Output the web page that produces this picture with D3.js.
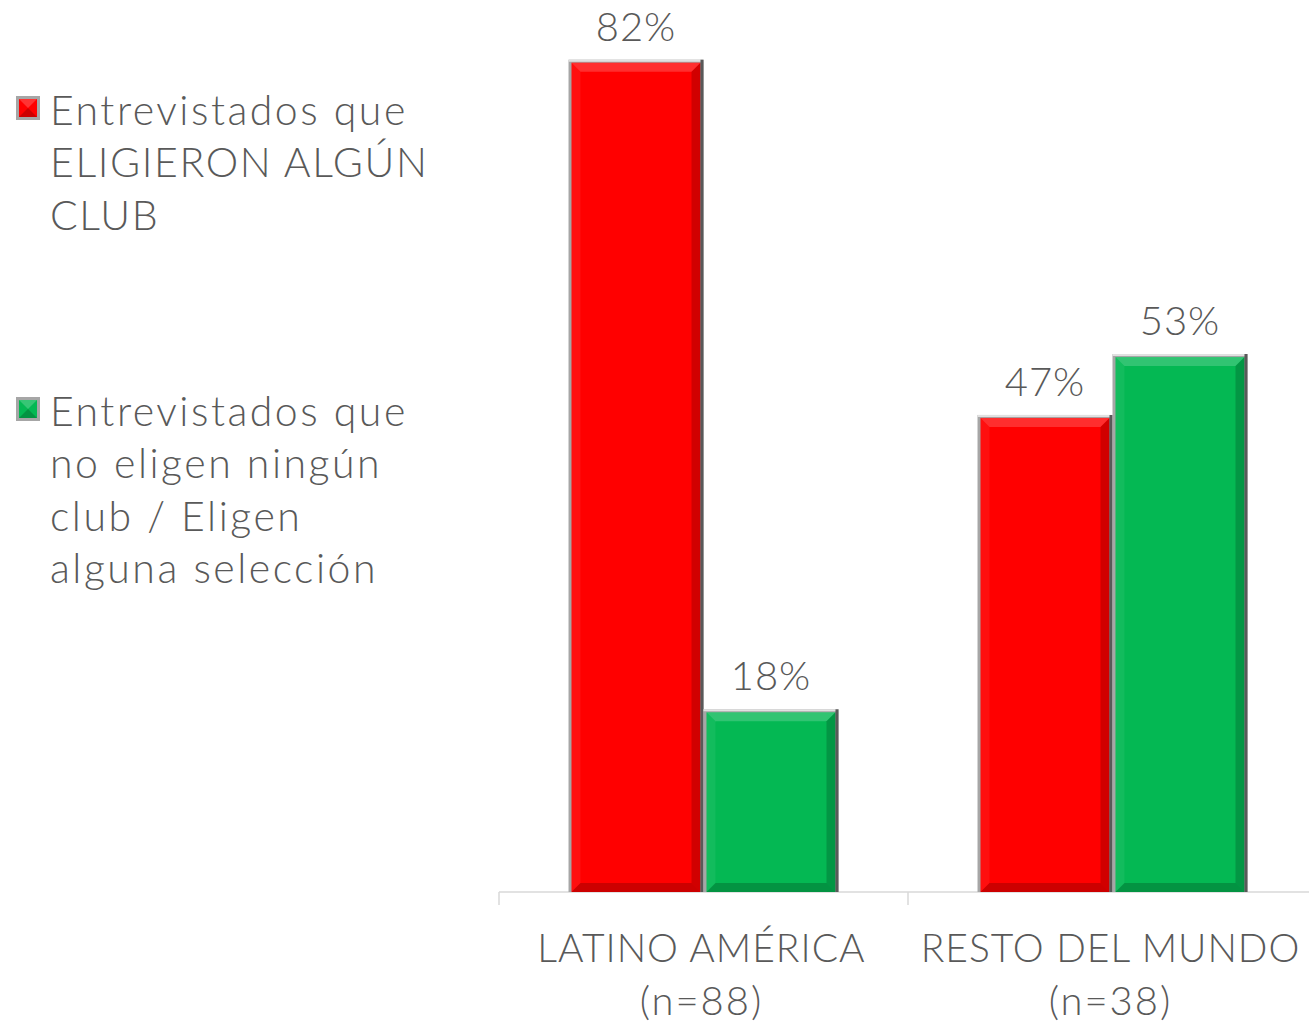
<!DOCTYPE html>
<html>
<head>
<meta charset="utf-8">
<script src="https://cdn.jsdelivr.net/npm/d3@7"></script>
<style>
  body { margin: 0; background: #fff; }
  text { font-family: "Lato", "DejaVu Sans", sans-serif; font-weight: 300; fill: #595959; }
</style>
</head>
<body>
<svg width="1309" height="1024"></svg>
<script>
var categories = ["LATINO AMÉRICA", "RESTO DEL MUNDO"];
var categorySub = ["(n=88)", "(n=38)"];
var series = ["Entrevistados que ELIGIERON ALGÚN CLUB", "Entrevistados que no eligen ningún club / Eligen alguna selección"];
var legendLines = [["Entrevistados que", "ELIGIERON ALGÚN", "CLUB"], ["Entrevistados que", "no eligen ningún", "club / Eligen", "alguna selección"]];
var colors = ["#ff0000", "#04b853"];
var eligieron = [82, 47];
var noEligen = [18, 53];

var svg = d3.select("svg");
var baseY = 892;

var x0 = d3.scaleBand().domain(categories).range([499, 1317]).paddingInner(0).paddingOuter(0);
var x1 = d3.scaleBand().domain(series).range([0, x0.bandwidth()]).paddingInner(0).paddingOuter(0.515);
var y = d3.scaleLinear().domain([0, 100]).range([baseY, baseY - 1015]);

var rows = [];
categories.forEach(function(c, i) {
	rows.push({cat: c, s: 0, v: eligieron[i]});
	rows.push({cat: c, s: 1, v: noEligen[i]});
});

// axis line and ticks
var ax = svg.append("g").attr("stroke", "#d9d9d9").attr("stroke-width", 1.5);
ax.append("line").attr("x1", x0.range()[0]).attr("x2", x0.range()[1]).attr("y1", baseY).attr("y2", baseY);
ax.selectAll("line.tick")
	.data([x0(categories[0]), x0(categories[1]), x0.range()[1]])
	.enter().append("line").attr("class", "tick")
	.attr("x1", function(d) { return d; }).attr("x2", function(d) { return d; })
	.attr("y1", baseY).attr("y2", baseY + 13);

// bars with a bevel look
var bars = svg.append("g").selectAll("g").data(rows).enter().append("g")
	.attr("transform", function(d) { return "translate(" + (x0(d.cat) + x1(series[d.s])) + "," + y(d.v) + ")"; });

bars.each(function(d) {
	var g = d3.select(this);
	var w = x1.bandwidth(), h = baseY - y(d.v), b = 9;
	g.append("rect").attr("width", w).attr("height", h).attr("fill", "#a6a6a6");
	g.append("rect").attr("x", 3).attr("y", 3).attr("width", w - 6).attr("height", h - 3).attr("fill", colors[d.s]);
	// top highlight
	g.append("polygon").attr("points", [[3,3],[w-3,3],[w-3-b,3+b],[3+b,3+b]].join(" "))
		.attr("fill", "#fff").attr("opacity", 0.18);
	// left highlight
	g.append("polygon").attr("points", [[3,3],[3+b,3+b],[3+b,h-b],[3,h]].join(" "))
		.attr("fill", "#fff").attr("opacity", 0.06);
	// right shadow
	g.append("polygon").attr("points", [[w-3,3],[w-3,h],[w-3-b,h-b],[w-3-b,3+b]].join(" "))
		.attr("fill", "#000").attr("opacity", 0.18);
	// bottom shadow
	g.append("polygon").attr("points", [[3,h],[w-3,h],[w-3-b,h-b],[3+b,h-b]].join(" "))
		.attr("fill", "#000").attr("opacity", 0.2);
	// light and dark outer edges
	g.append("line").attr("x1", 0).attr("x2", w).attr("y1", 1).attr("y2", 1).attr("stroke", "#e0e0e0").attr("stroke-width", 2);
	g.append("line").attr("x1", w - 1.5).attr("x2", w - 1.5).attr("y1", 0).attr("y2", h).attr("stroke", "#595959").attr("stroke-width", 3);
});

// value labels
svg.append("g").selectAll("text").data(rows).enter().append("text")
	.attr("x", function(d) { return x0(d.cat) + x1(series[d.s]) + x1.bandwidth() / 2; })
	.attr("y", function(d) { return y(d.v) - 19; })
	.attr("text-anchor", "middle")
	.attr("font-size", 40)
	.attr("letter-spacing", 1)
	.text(function(d) { return d.v + "%"; });

// category labels
var cl = svg.append("g").selectAll("g").data(categories).enter().append("g");
cl.append("text")
	.attr("x", function(d) { return x0(d) + x0.bandwidth() / 2 - 2; })
	.attr("y", 962).attr("text-anchor", "middle").attr("font-size", 39).attr("letter-spacing", 1)
	.text(function(d) { return d; });
cl.append("text")
	.attr("x", function(d) { return x0(d) + x0.bandwidth() / 2 - 2; })
	.attr("y", 1015).attr("text-anchor", "middle").attr("font-size", 40).attr("letter-spacing", 2)
	.text(function(d, i) { return categorySub[i]; });

// legend
var legTop = [96, 397];
var leg = svg.append("g").selectAll("g").data(series).enter().append("g");
leg.each(function(d, i) {
	var g = d3.select(this);
	var s = 24, lx = 16, ly = legTop[i];
	g.append("rect").attr("x", lx).attr("y", ly).attr("width", s).attr("height", s).attr("fill", "#a6a6a6");
	g.append("rect").attr("x", lx + 3).attr("y", ly + 3).attr("width", s - 6).attr("height", s - 6).attr("fill", colors[i]);
	g.append("polygon").attr("points", [[lx+3,ly+3],[lx+s-3,ly+3],[lx+s/2,ly+s/2]].join(" ")).attr("fill", "#fff").attr("opacity", 0.2);
	g.append("polygon").attr("points", [[lx+3,ly+s-3],[lx+s-3,ly+s-3],[lx+s/2,ly+s/2]].join(" ")).attr("fill", "#000").attr("opacity", 0.2);
	g.selectAll("text").data(legendLines[i]).enter().append("text")
		.attr("x", 50)
		.attr("y", function(t, j) { return ly + 29 + j * 52.3; })
		.attr("font-size", 41)
		.attr("letter-spacing", function(t) { return t === t.toUpperCase() ? 1.6 : 2.5; })
		.text(function(t) { return t; });
});
</script>
</body>
</html>
